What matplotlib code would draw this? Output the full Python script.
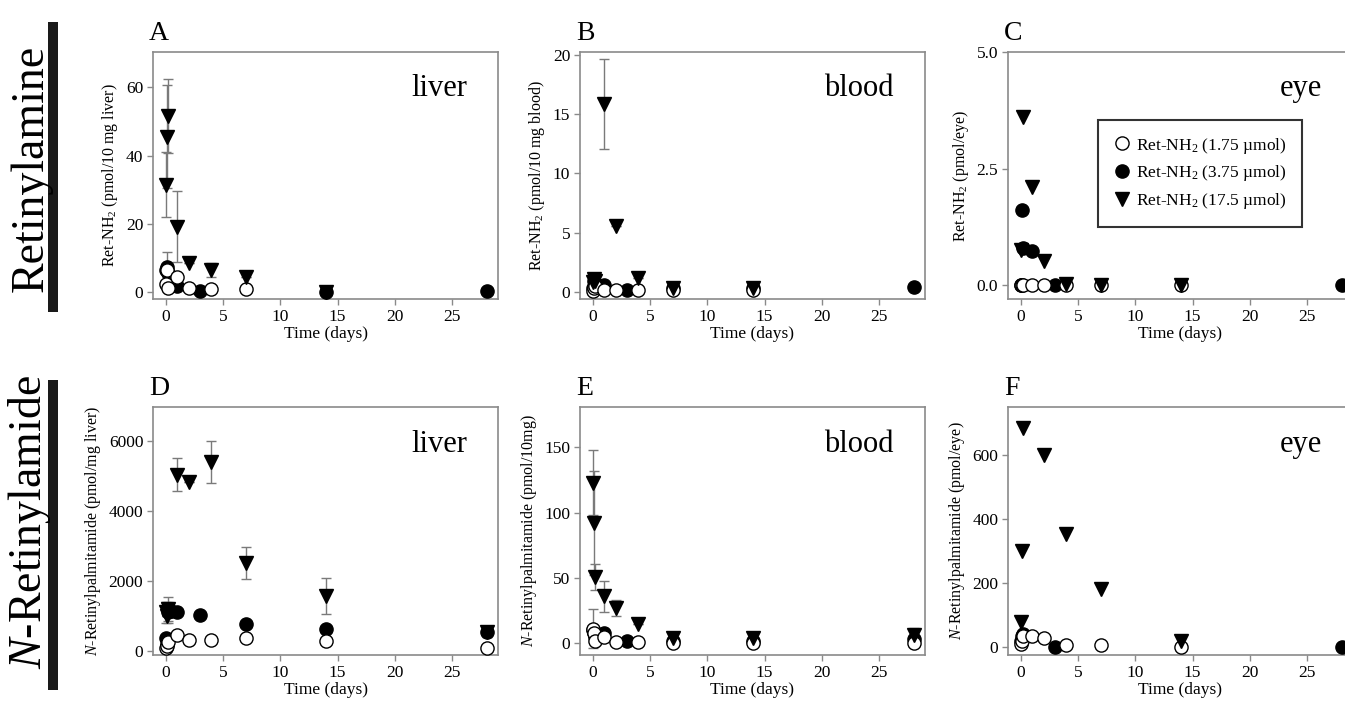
import matplotlib
matplotlib.use("Agg")
import matplotlib.pyplot as plt
from matplotlib.patches import Rectangle

plt.rcParams['font.family'] = ['Liberation Serif', 'DejaVu Serif']
plt.rcParams['mathtext.fontset'] = 'custom'
plt.rcParams['mathtext.rm'] = 'Liberation Serif'
plt.rcParams['mathtext.it'] = 'Liberation Serif:italic'

# time in days; three doses: 1.75, 3.75, 17.5 umol
# --- A: Ret-NH2, liver
A_LOW_T = [0.04, 0.125, 0.25, 1, 2, 4, 7]
A_LOW_Y = [2.5, 6.4, 1.3, 4.5, 1.1, 0.8, 0.8]
A_MID_T = [0.04, 0.125, 0.25, 1, 3, 14, 28]
A_MID_Y = [6.5, 7.4, 5.5, 1.8, 0.4, 0.1, 0.2]
A_MID_E = [0, 4.4, 0, 0, 0, 0, 0]
A_HIGH_T = [0.04, 0.125, 0.25, 1, 2, 4, 7, 14]
A_HIGH_Y = [31.4, 45.5, 51.6, 19.2, 8.6, 6.5, 4.4, 0.1]
A_HIGH_E = [9.5, 15.0, 10.8, 10.3, 0, 2.1, 0, 0]

# --- B: Ret-NH2, blood
B_LOW_T = [0.04, 0.125, 0.25, 1, 2, 4, 7, 14]
B_LOW_Y = [0.1, 0.3, 0.5, 0.2, 0.2, 0.2, 0.2, 0.2]
B_MID_T = [0.04, 0.125, 0.25, 0.5, 1, 3, 7, 14, 28]
B_MID_Y = [0.3, 0.9, 0.6, 0.5, 0.6, 0.2, 0.3, 0.3, 0.45]
B_MID_E = [0, 0.3, 0, 0, 0, 0, 0, 0, 0]
B_HIGH_T = [0.04, 0.125, 0.25, 1, 2, 4, 7, 14]
B_HIGH_Y = [0.8, 1.1, 0.9, 15.9, 5.6, 1.2, 0.35, 0.3]
B_HIGH_E = [0.5, 0.5, 0, 3.8, 0, 0, 0, 0]

# --- C: Ret-NH2, eye
C_LOW_T = [0.04, 0.125, 0.25, 1, 2, 4, 7, 14]
C_LOW_Y = [0, 0, 0, 0, 0, 0, 0, 0]
C_MID_T = [0.04, 0.125, 0.25, 1, 3, 28]
C_MID_Y = [0.0, 1.6, 0.8, 0.74, 0.0, 0.0]
C_HIGH_T = [0.04, 0.25, 1, 2, 4, 7, 14]
C_HIGH_Y = [0.75, 3.6, 2.1, 0.52, 0.03, 0.0, 0.0]

# --- D: N-retinylpalmitamide, liver
D_LOW_T = [0.04, 0.125, 0.25, 1, 2, 4, 7, 14, 28]
D_LOW_Y = [80, 150, 250, 460, 320, 320, 380, 290, 80]
D_LOW_E = [0, 0, 0, 0, 0, 0, 100, 0, 0]
D_MID_T = [0.04, 0.125, 0.25, 0.5, 1, 3, 7, 14, 28]
D_MID_Y = [360, 200, 1100, 1150, 1100, 1030, 770, 620, 550]
D_MID_E = [0, 0, 300, 0, 0, 0, 0, 0, 150]
D_HIGH_T = [0.04, 0.125, 0.25, 1, 2, 4, 7, 14, 28]
D_HIGH_Y = [1100, 1000, 1200, 5030, 4840, 5410, 2510, 1570, 540]
D_HIGH_E = [300, 0, 350, 470, 0, 600, 450, 510, 0]

# --- E: N-retinylpalmitamide, blood
E_LOW_T = [0.04, 0.125, 0.25, 1, 2, 4, 7, 14, 28]
E_LOW_Y = [11, 8, 2, 4.9, 1, 1, 0, 0, 0]
E_LOW_E = [15, 0, 0, 0, 0, 0, 0, 0, 0]
E_MID_T = [0.04, 0.125, 0.25, 1, 3, 7, 14, 28]
E_MID_Y = [10, 8, 5, 8, 1.5, 2, 2, 3]
E_HIGH_T = [0.04, 0.125, 0.25, 1, 2, 4, 7, 14, 28]
E_HIGH_Y = [123, 92, 51, 36, 27, 15, 4, 4, 6]
E_HIGH_E = [25, 40, 10, 12, 6, 0, 0, 0, 6]

# --- F: N-retinylpalmitamide, eye
F_LOW_T = [0.04, 0.125, 0.25, 1, 2, 4, 7, 14]
F_LOW_Y = [10, 20, 35, 34, 27, 6, 6, 0]
F_MID_T = [0.04, 0.125, 0.25, 3, 28]
F_MID_Y = [20, 35, 40, 0, 0]
F_HIGH_T = [0.04, 0.125, 0.25, 2, 4, 7, 14]
F_HIGH_Y = [78, 300, 684, 600, 353, 181, 19]

LEGEND_LABELS = [r"Ret-NH$_2$ (1.75 µmol)", r"Ret-NH$_2$ (3.75 µmol)", r"Ret-NH$_2$ (17.5 µmol)"]
X_TICKS = [0, 5, 10, 15, 20, 25]

GRAY = '#8a8a8a'
EGRAY = '#7a7a7a'
W, H = 1345, 717


def panel(fig, left, bottom_px, top_px, ylim, yticks, ylabel, letter, tissue, series, yfmt=None):
    ax = fig.add_axes([left / W, 1 - bottom_px / H, 345 / W, (bottom_px - top_px) / H])
    low, mid, high = series
    handles = []
    for (t, y, e), style in zip([mid, low, high],
                                [dict(marker='o', mfc='black', mec='black'),
                                 dict(marker='o', mfc='white', mec='black'),
                                 dict(marker='v', mfc='black', mec='black')]):
        if e is not None:
            ax.errorbar(t, y, yerr=e, fmt='none', ecolor=EGRAY, elinewidth=1, capsize=3.5, capthick=1, zorder=2)
        ms = 10 if style['marker'] == 'v' else 9.5
        h, = ax.plot(t, y, linestyle='', ms=ms, mew=1, zorder=3, **style)
        handles.append(h)
    ax.set_xlim(-1.1, 29.0)
    ax.set_ylim(*ylim)
    ax.set_xticks(X_TICKS)
    ax.set_yticks(yticks)
    if yfmt:
        ax.set_yticklabels([yfmt % v for v in yticks])
    for s in ax.spines.values():
        s.set_color(GRAY)
        s.set_linewidth(1.2)
    ax.tick_params(axis='both', which='major', direction='out', length=4, width=1, color=GRAY,
                   labelsize=12.5, pad=3, top=False, right=False)
    ax.set_xlabel("Time (days)", fontsize=12.5, labelpad=1)
    ax.set_ylabel(ylabel, fontsize=11.5, labelpad=4)
    ax.text(-0.012, 1.025, letter, transform=ax.transAxes, fontsize=20, ha='left', va='bottom')
    ax.text(0.91, 0.82, tissue, transform=ax.transAxes, fontsize=22, ha='right', va='baseline')
    return ax, [handles[1], handles[0], handles[2]]


fig = plt.figure(figsize=(W / 100, H / 100), dpi=100)

TOP = (52, 299)
BOT = (407, 655)

panel(fig, 153, TOP[1], TOP[0], (-2, 70.3), [0, 20, 40, 60], r"Ret-NH$_2$ (pmol/10 mg liver)", "A", "liver",
      [(A_LOW_T, A_LOW_Y, None), (A_MID_T, A_MID_Y, A_MID_E), (A_HIGH_T, A_HIGH_Y, A_HIGH_E)])
panel(fig, 580, TOP[1], TOP[0], (-0.6, 20.25), [0, 5, 10, 15, 20], r"Ret-NH$_2$ (pmol/10 mg blood)", "B", "blood",
      [(B_LOW_T, B_LOW_Y, None), (B_MID_T, B_MID_Y, B_MID_E), (B_HIGH_T, B_HIGH_Y, B_HIGH_E)])
axC, hC = panel(fig, 1008, TOP[1], TOP[0], (-0.3, 5.0), [0, 2.5, 5.0], r"Ret-NH$_2$ (pmol/eye)", "C", "eye",
                [(C_LOW_T, C_LOW_Y, None), (C_MID_T, C_MID_Y, None), (C_HIGH_T, C_HIGH_Y, None)], yfmt="%.1f")
panel(fig, 153, BOT[1], BOT[0], (-115, 6970), [0, 2000, 4000, 6000],
      r"$\mathit{N}$-Retinylpalmitamide (pmol/mg liver)", "D", "liver",
      [(D_LOW_T, D_LOW_Y, D_LOW_E), (D_MID_T, D_MID_Y, D_MID_E), (D_HIGH_T, D_HIGH_Y, D_HIGH_E)])
panel(fig, 580, BOT[1], BOT[0], (-9, 181), [0, 50, 100, 150],
      r"$\mathit{N}$-Retinylpalmitamide (pmol/10mg)", "E", "blood",
      [(E_LOW_T, E_LOW_Y, E_LOW_E), (E_MID_T, E_MID_Y, None), (E_HIGH_T, E_HIGH_Y, E_HIGH_E)])
panel(fig, 1008, BOT[1], BOT[0], (-25, 750), [0, 200, 400, 600],
      r"$\mathit{N}$-Retinylpalmitamide (pmol/eye)", "F", "eye",
      [(F_LOW_T, F_LOW_Y, None), (F_MID_T, F_MID_Y, None), (F_HIGH_T, F_HIGH_Y, None)])

leg = axC.legend(hC, LEGEND_LABELS, loc='upper left', bbox_to_anchor=(0.261, 0.725), fontsize=12.5,
                 frameon=True, fancybox=False, edgecolor='black', borderpad=0.9, handletextpad=0.3,
                 handlelength=1.0, labelspacing=0.45, borderaxespad=0)
leg.get_frame().set_linewidth(1.5)

# row labels with black bars
fig.text(53 / W, 1 - 168 / H, "Retinylamine", rotation=90, fontsize=33, ha='right', va='center')
fig.add_artist(Rectangle((48 / W, 1 - 312 / H), 10 / W, 290 / H, transform=fig.transFigure,
                         facecolor='#1a1a1a', edgecolor='none'))
fig.text(53 / W, 1 - 522 / H, r"$\mathit{N}$-Retinylamide", rotation=90, fontsize=33, ha='right', va='center')
fig.add_artist(Rectangle((48 / W, 1 - 690 / H), 10 / W, 310 / H, transform=fig.transFigure,
                         facecolor='#1a1a1a', edgecolor='none'))

fig.savefig("out.png", dpi=100)
